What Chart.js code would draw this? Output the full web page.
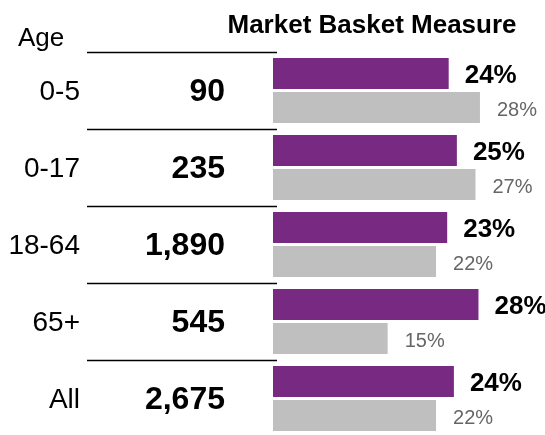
<!DOCTYPE html>
<html>
<head>
<meta charset="utf-8">
<script src="https://cdn.jsdelivr.net/npm/chart.js@4"></script>
<style>
  html, body { margin: 0; padding: 0; overflow: hidden; background: #fff; }
  #wrap { width: 545px; height: 437px; }
</style>
</head>
<body>
<div id="wrap"><canvas id="grafico"></canvas></div>
<script>
// datos
const edades = ['0-5', '0-17', '18-64', '65+', 'All'];
const personas = ['90', '235', '1,890', '545', '2,675'];
const mbmEdad = [23.6, 24.7, 23.4, 27.6, 24.3];     // barras moradas
const mbmTotal = [27.8, 27.2, 21.9, 15.4, 21.9];    // barras grises

const titulo = 'Market Basket Measure';
const cabeceraEdad = 'Age';

const FUENTE = '"Liberation Sans", Arial, sans-serif';

// textos de la tabla, lineas y etiquetas de las barras
const tablaPlugin = {
  id: 'tabla',
  afterDatasetsDraw(chart) {
    const ctx = chart.ctx;
    const y = chart.scales.y;
    const paso = y.getPixelForValue(1) - y.getPixelForValue(0);
    ctx.save();

    ctx.fillStyle = '#000';
    ctx.textBaseline = 'alphabetic';
    ctx.font = 'bold 26px ' + FUENTE;
    ctx.textAlign = 'center';
    ctx.fillText(titulo, 372, 33);

    ctx.font = '26px ' + FUENTE;
    ctx.textAlign = 'left';
    ctx.fillText(cabeceraEdad, 18, 46);

    ctx.strokeStyle = '#000';
    ctx.lineWidth = 1.5;
    for (let i = 0; i < edades.length; i++) {
      const cy = y.getPixelForValue(i);
      const top = Math.round(cy - paso / 2) + 0.5;
      ctx.beginPath();
      ctx.moveTo(87, top);
      ctx.lineTo(277, top);
      ctx.stroke();

      ctx.textBaseline = 'middle';
      ctx.textAlign = 'right';
      ctx.font = '28px ' + FUENTE;
      ctx.fillText(edades[i], 80, cy + 2);
      ctx.font = 'bold 32px ' + FUENTE;
      ctx.fillText(personas[i], 225, cy + 2);
    }

    // etiquetas de porcentaje
    ctx.textAlign = 'left';
    const m0 = chart.getDatasetMeta(0);
    const m1 = chart.getDatasetMeta(1);
    m0.data.forEach((bar, i) => {
      ctx.fillStyle = '#000';
      ctx.font = 'bold 26px ' + FUENTE;
      ctx.fillText(Math.round(mbmEdad[i]) + '%', bar.x + 16, bar.y + 2);
    });
    m1.data.forEach((bar, i) => {
      ctx.fillStyle = '#666';
      ctx.font = '20px ' + FUENTE;
      ctx.fillText(Math.round(mbmTotal[i]) + '%', bar.x + 17, bar.y + 3);
    });
    ctx.restore();
  }
};

new Chart(document.getElementById('grafico'), {
  type: 'bar',
  data: {
    labels: edades,
    datasets: [
      { data: mbmEdad, backgroundColor: '#782A82' },
      { data: mbmTotal, backgroundColor: '#BFBFBF' }
    ]
  },
  options: {
    indexAxis: 'y',
    responsive: true,
    maintainAspectRatio: false,
    animation: false,
    layout: { padding: { left: 273, top: 52, right: 4, bottom: 0 } },
    datasets: { bar: { categoryPercentage: 0.883, barPercentage: 0.91 } },
    scales: {
      x: { display: false, min: 0, max: 36 },
      y: { display: false }
    },
    plugins: {
      legend: { display: false },
      tooltip: { enabled: false }
    }
  },
  plugins: [tablaPlugin]
});
</script>
</body>
</html>
